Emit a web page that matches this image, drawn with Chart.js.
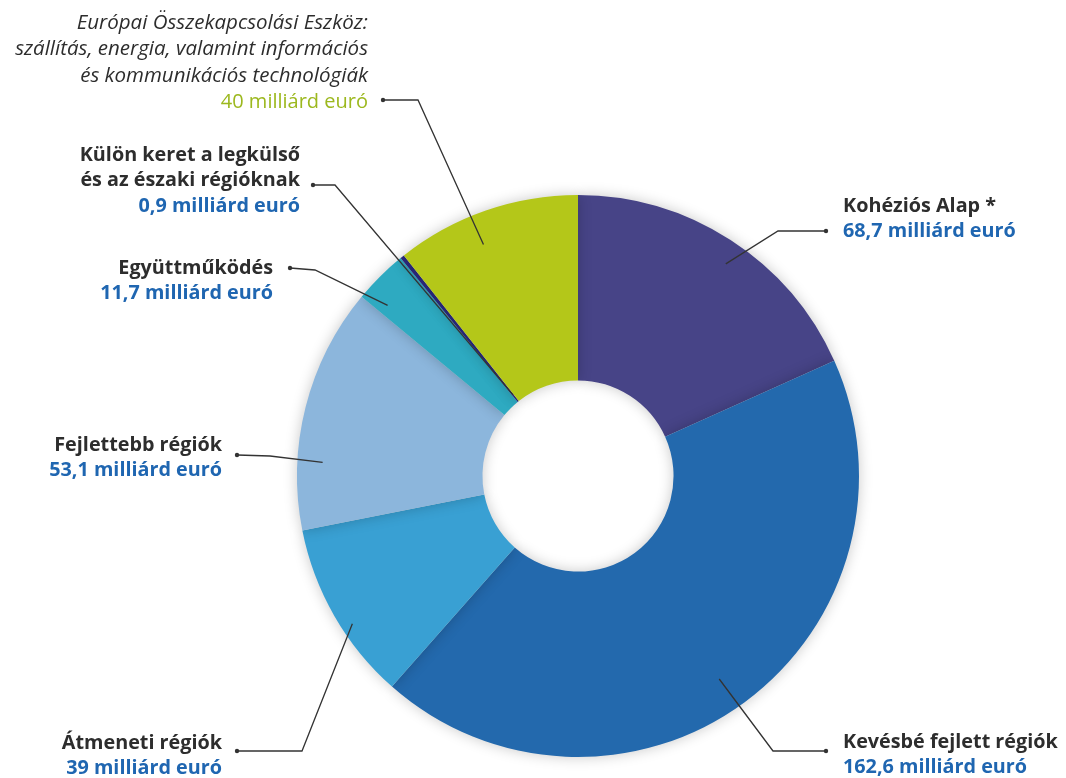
<!DOCTYPE html>
<html>
<head>
    <title>Kohéziós politika</title>
    <script src="https://cdn.jsdelivr.net/npm/chart.js"></script>
    <style>
        body { margin: 0; background: #fff; }
    </style>
</head>
<body>
    <canvas id="donut" width="1066" height="778"></canvas>

    <script>
        // Slices, clockwise from the top
        const categories = [
            'Kohéziós Alap *',
            'Kevésbé fejlett régiók',
            'Átmeneti régiók',
            'Fejlettebb régiók',
            'Együttműködés',
            'Külön keret a legkülső és az északi régióknak',
            'Európai Összekapcsolási Eszköz'
        ];
        const values = [68.7, 162.6, 39, 53.1, 11.7, 0.9, 40];
        const valueLabels = ['68,7', '162,6', '39', '53,1', '11,7', '0,9', '40'];
        const colors = ['#474487', '#2369ad', '#39a0d3', '#8cb6dc', '#2eaac1', '#2b2a80', '#b4c719'];

        // label layout: text lines, anchor, alignment, leader path (dot -> elbow -> slice)
        const labelLayout = [
            { lines: ['Kohéziós Alap *'], x: 843, y: 206, align: 'left', dot: [826, 231], elbow: [778, 231], at: [0.53, 0.92] },
            { lines: ['Kevésbé fejlett régiók'], x: 843, y: 742, align: 'left', dot: [826, 751], elbow: [773, 751], at: [0.51, 0.88] },
            { lines: ['Átmeneti régiók'], x: 222, y: 743, align: 'right', dot: [237, 751], elbow: [302, 751], at: [0.41, 0.96] },
            { lines: ['Fejlettebb régiók'], x: 222, y: 445, align: 'right', dot: [237, 455], elbow: [270, 456], at: [0.28, 0.91] },
            { lines: ['Együttműködés'], x: 273, y: 268, align: 'right', dot: [290, 268], elbow: [315, 270], at: [0.2, 0.91] },
            { lines: ['Külön keret a legkülső', 'és az északi régióknak'], x: 300, y: 155, align: 'right', dot: [313, 185], elbow: [335, 185], at: [0.5, 0.37] },
            { lines: ['Európai Összekapcsolási Eszköz:', 'szállítás, energia, valamint információs', 'és kommunikációs technológiák'], x: 368, y: 23, align: 'right', italic: true, dot: [383, 100], elbow: [418, 100], at: [0.42, 0.89] }
        ];

        const labelPlugin = {
            id: 'labels',
            afterDraw(chart) {
                const ctx = chart.ctx;
                const arcs = chart.getDatasetMeta(0).data;
                ctx.save();
                labelLayout.forEach((l, i) => {
                    const p = arcs[i].getProps(['x', 'y', 'startAngle', 'endAngle', 'outerRadius'], true);
                    const a = p.startAngle + (p.endAngle - p.startAngle) * l.at[0];
                    const r = p.outerRadius * l.at[1];
                    const tx = p.x + Math.cos(a) * r;
                    const ty = p.y + Math.sin(a) * r;

                    // leader line
                    ctx.strokeStyle = '#333';
                    ctx.lineWidth = 1.3;
                    ctx.beginPath();
                    ctx.moveTo(l.dot[0], l.dot[1]);
                    ctx.lineTo(l.elbow[0], l.elbow[1]);
                    ctx.lineTo(tx, ty);
                    ctx.stroke();
                    ctx.fillStyle = '#333';
                    ctx.beginPath();
                    ctx.arc(l.dot[0], l.dot[1], 2.2, 0, Math.PI * 2);
                    ctx.fill();

                    // text
                    ctx.textAlign = l.align;
                    ctx.textBaseline = 'middle';
                    let y = l.y;
                    const lh = l.italic ? 26.5 : 25.5;
                    l.lines.forEach(t => {
                        ctx.fillStyle = '#2d2d2d';
                        ctx.font = l.italic ? 'italic 500 20.5px "Open Sans"' : '700 19.8px "Open Sans"';
                        ctx.fillText(t, l.x, y);
                        y += lh;
                    });
                    ctx.fillStyle = l.italic ? '#9cb81e' : '#1f66b1';
                    ctx.font = l.italic ? '500 20px "Open Sans"' : '700 19.8px "Open Sans"';
                    ctx.fillText(valueLabels[i] + ' milliárd euró', l.x, y);
                });
                ctx.restore();
            }
        };

        const shadowPlugin = {
            id: 'shadow',
            beforeDatasetsDraw(chart) {
                chart.ctx.save();
                chart.ctx.shadowColor = 'rgba(0,0,0,0.22)';
                chart.ctx.shadowBlur = 14;
            },
            afterDatasetsDraw(chart) {
                chart.ctx.restore();
            }
        };

        new Chart(document.getElementById('donut').getContext('2d'), {
            type: 'doughnut',
            data: {
                labels: categories,
                datasets: [{
                    data: values,
                    backgroundColor: colors,
                    borderWidth: 0
                }]
            },
            options: {
                responsive: false,
                animation: false,
                cutout: '34%',
                layout: { padding: { top: 195, bottom: 21, left: 297, right: 207 } },
                plugins: {
                    legend: { display: false },
                    tooltip: { enabled: false }
                }
            },
            plugins: [shadowPlugin, labelPlugin]
        });
    </script>
</body>
</html>
